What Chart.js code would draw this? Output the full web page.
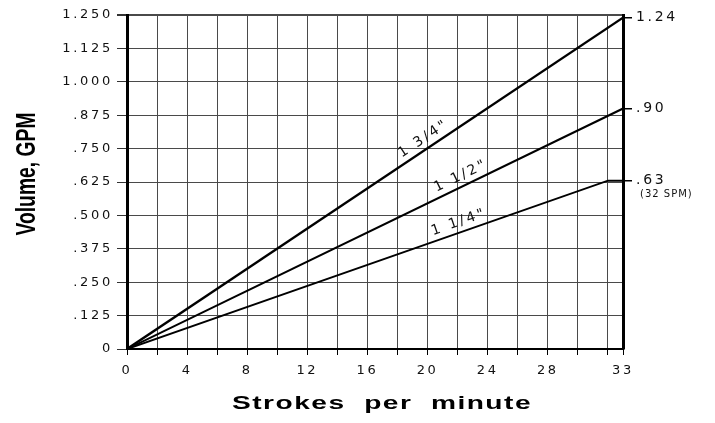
<!DOCTYPE html>
<html>
<head>
<meta charset="utf-8">
<script src="https://cdn.jsdelivr.net/npm/chart.js@4/dist/chart.umd.min.js"></script>
<style>
    html, body { margin: 0; padding: 0; background: #fff; }
    #wrap { width: 715px; height: 423px; }
</style>
</head>
<body>
<div id="wrap"><canvas id="pumpChart"></canvas></div>
<script>
// plunger size lines, strokes per minute vs volume (GPM)
const line134X = [0, 33];
const line134Y = [0, 1.24];
const line112X = [0, 33];
const line112Y = [0, 0.90];
const line114X = [0, 32, 33];
const line114Y = [0, 0.63, 0.63];

const lineNames = ['1 3/4"', '1 1/2"', '1 1/4"'];
const lineNameAt = [20.1, 22.5, 22.3];

const xTickValues = [0, 2, 4, 6, 8, 10, 12, 14, 16, 18, 20, 22, 24, 26, 28, 30, 32, 33];
const xTickLabels = ['0', '', '4', '', '8', '', '12', '', '16', '', '20', '', '24', '', '28', '', '', '33'];
const yTickValues = [0, 0.125, 0.25, 0.375, 0.5, 0.625, 0.75, 0.875, 1, 1.125, 1.25];
const yTickLabels = ['0', '.125', '.250', '.375', '.500', '.625', '.750', '.875', '1.000', '1.125', '1.250'];
const rightTickValues = [1.24, 0.90, 0.63];
const rightTickLabels = ['1.24', '.90', '.63'];
const rightNote = '(32 SPM)';

const xTitle = 'Strokes per minute';
const yTitle = 'Volume, GPM';

const TICK_FONT = { family: "'DejaVu Sans', sans-serif", size: 13 };
const INK = '#111';
const GRID = '#4a4a4a';

const toPoints = (xs, ys) => xs.map((x, i) => ({ x: x, y: ys[i] }));

const spacingPlugin = {
    id: 'spacing',
    beforeLayout(chart) { chart.ctx.letterSpacing = '2.7px'; },
    beforeDraw(chart) { chart.ctx.letterSpacing = '2.7px'; }
};

const notesPlugin = {
    id: 'notes',
    afterDraw(chart) {
        const ctx = chart.ctx;
        const xs = chart.scales.x;
        const ys = chart.scales.y;
        const area = chart.chartArea;

        // names along each line
        const sets = chart.data.datasets;
        ctx.save();
        ctx.fillStyle = INK;
        ctx.font = "14px 'DejaVu Sans', sans-serif";
        ctx.letterSpacing = '2.5px';
        ctx.textAlign = 'center';
        ctx.textBaseline = 'bottom';
        sets.forEach((ds, i) => {
            const pts = ds.data;
            const a = pts[0], b = pts[1];
            const x0 = xs.getPixelForValue(a.x), y0 = ys.getPixelForValue(a.y);
            const x1 = xs.getPixelForValue(b.x), y1 = ys.getPixelForValue(b.y);
            const ang = Math.atan2(y1 - y0, x1 - x0);
            const t = lineNameAt[i];
            const yv = a.y + (b.y - a.y) * (t - a.x) / (b.x - a.x);
            ctx.save();
            ctx.translate(xs.getPixelForValue(t), ys.getPixelForValue(yv));
            ctx.rotate(ang);
            ctx.fillText(lineNames[i], 0, -3);
            ctx.restore();
        });
        ctx.restore();

        // note under the .63 label
        ctx.save();
        ctx.fillStyle = INK;
        ctx.font = "10px 'DejaVu Sans', sans-serif";
        ctx.letterSpacing = '1px';
        ctx.textAlign = 'left';
        ctx.textBaseline = 'middle';
        ctx.fillText(rightNote, area.right + 17, chart.scales.y2.getPixelForValue(0.63) + 14);
        ctx.restore();

        // axis titles
        ctx.save();
        ctx.fillStyle = '#000';
        ctx.font = "bold 28px 'Liberation Sans Narrow', 'Liberation Sans', sans-serif";
        ctx.letterSpacing = '0px';
        ctx.textAlign = 'center';
        ctx.textBaseline = 'middle';
        ctx.translate(27, 174);
        ctx.rotate(-Math.PI / 2);
        const wy = ctx.measureText(yTitle).width;
        ctx.scale(123 / wy, 1);
        ctx.fillText(yTitle, 0, 0);
        ctx.restore();

        ctx.save();
        ctx.fillStyle = '#000';
        ctx.font = "bold 19px 'Liberation Sans', sans-serif";
        ctx.letterSpacing = '1px';
        ctx.textAlign = 'center';
        ctx.textBaseline = 'middle';
        const xt = xTitle.split(' ').join('  ');
        ctx.translate(382, 404);
        const wx = ctx.measureText(xt).width;
        ctx.scale(300 / wx, 1);
        ctx.fillText(xt, 0, 0);
        ctx.restore();
    }
};

const ctx = document.getElementById('pumpChart').getContext('2d');
new Chart(ctx, {
    type: 'line',
    data: {
        datasets: [
            { label: lineNames[0], data: toPoints(line134X, line134Y), borderColor: '#000', borderWidth: 2.4 },
            { label: lineNames[1], data: toPoints(line112X, line112Y), borderColor: '#000', borderWidth: 2 },
            { label: lineNames[2], data: toPoints(line114X, line114Y), borderColor: '#000', borderWidth: 2 }
        ]
    },
    options: {
        responsive: true,
        maintainAspectRatio: false,
        animation: false,
        devicePixelRatio: 1,
        layout: { padding: { top: 15, left: 0, right: 0, bottom: 0 } },
        elements: { point: { radius: 0 }, line: { tension: 0 } },
        plugins: { legend: { display: false }, tooltip: { enabled: false } },
        scales: {
            x: {
                type: 'linear',
                min: 0,
                max: 33,
                afterBuildTicks: s => { s.ticks = xTickValues.map(v => ({ value: v })); },
                afterFit: s => { s.height = 74; },
                grid: { color: GRID, lineWidth: 1, tickLength: 6, tickColor: '#000' },
                border: { color: '#000', width: 2 },
                ticks: {
                    autoSkip: false,
                    maxRotation: 0,
                    padding: 8,
                    color: INK,
                    font: TICK_FONT,
                    callback: v => xTickLabels[xTickValues.indexOf(v)]
                }
            },
            y: {
                min: 0,
                max: 1.25,
                afterBuildTicks: s => { s.ticks = yTickValues.map(v => ({ value: v })); },
                afterFit: s => { s.width = 127; },
                grid: {
                    color: GRID,
                    lineWidth: c => (c.tick && c.tick.value === 1.25 ? 2 : 1),
                    tickLength: 10,
                    tickColor: '#333'
                },
                border: { color: '#000', width: 3 },
                ticks: {
                    padding: 4,
                    color: INK,
                    font: TICK_FONT,
                    callback: v => yTickLabels[yTickValues.indexOf(v)]
                }
            },
            y2: {
                position: 'right',
                min: 0,
                max: 1.25,
                afterBuildTicks: s => { s.ticks = rightTickValues.map(v => ({ value: v })); },
                afterFit: s => { s.width = 92; },
                grid: { drawOnChartArea: false, tickLength: 9, color: '#000', lineWidth: 1.5 },
                border: { color: '#000', width: 3 },
                ticks: {
                    padding: 4,
                    color: INK,
                    font: { family: "'DejaVu Sans', sans-serif", size: 14 },
                    callback: v => rightTickLabels[rightTickValues.indexOf(v)]
                }
            }
        }
    },
    plugins: [spacingPlugin, notesPlugin]
});
</script>
</body>
</html>
